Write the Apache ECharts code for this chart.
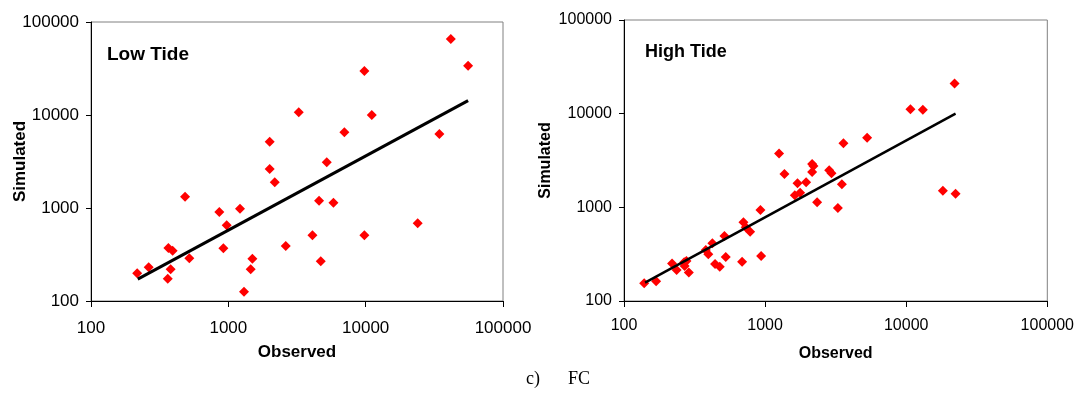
<!DOCTYPE html>
<html>
<head>
<meta charset="utf-8">
<script src="https://cdn.jsdelivr.net/npm/echarts@6/dist/echarts.min.js"></script>
<style>
html,body{margin:0;padding:0;background:#fff;}
#c{width:1077px;height:399px;}
</style>
</head>
<body>
<div id="c"></div>
<script>
// Axis tick values (log scale)
const tickValues = [100, 1000, 10000, 100000];

// Low Tide: observed vs simulated
const lowObserved = [217, 263, 362, 380, 366, 393, 484, 520, 860, 973, 920, 1216, 1301, 1455, 1496, 2001, 2001, 2177, 2618, 3256, 4095, 4580, 4711, 5210, 5825, 7000, 9790, 9790, 11080, 23930, 34400, 41700, 55700];
const lowSimulated = [199, 230, 174, 219, 371, 347, 1325, 288, 905, 651, 369, 984, 126, 219, 285, 5163, 2624, 1888, 390, 10690, 508, 1199, 267, 3097, 1140, 6515, 29700, 508, 10000, 684, 6250, 65600, 33900];
const lowTrendX = [219, 55700];
const lowTrendY = [172, 14260];

// High Tide: observed vs simulated
const highObserved = [139, 169, 219, 236, 267, 277, 269, 288, 380, 396, 423, 442, 477, 515, 526, 687, 702, 729, 783, 927, 937, 1256, 1371, 1624, 1696, 1771, 1953, 2155, 2201, 2155, 2337, 2845, 2954, 3278, 3500, 3592, 5285, 10720, 13120, 18200, 22380, 22020];
const highSimulated = [155, 163, 252, 214, 259, 267, 236, 202, 350, 315, 413, 248, 232, 494, 295, 263, 692, 612, 550, 935, 302, 3767, 2265, 1342, 1803, 1432, 1850, 2900, 2760, 2383, 1130, 2482, 2306, 984, 1759, 4820, 5536, 11120, 11020, 1503, 1396, 21000];
const highTrendX = [141, 22380];
const highTrendY = [157, 10000];

const panelTitles = ['Low Tide', 'High Tide'];
const xName = 'Observed';
const yName = 'Simulated';
const caption = ['c)', 'FC'];

function pairs(xs, ys){ return xs.map((x,i)=>[x, ys[i]]); }
const plain = v => String(Math.round(v));

const chart = echarts.init(document.getElementById('c'), null, {renderer:'canvas'});

function xAxisCfg(gi, fs, nameFs, gap, lblMargin){
  return {
    gridIndex: gi, type: 'log', logBase: 10, min: tickValues[0], max: tickValues[tickValues.length-1],
    name: xName, nameLocation: 'middle', nameGap: gap, nameMoveOverlap: false,
    nameTextStyle: {fontFamily:'Liberation Sans', fontWeight:'bold', fontSize:nameFs, color:'#000'},
    axisLine: {show:true, onZero:false, lineStyle:{color:'#000', width:1}},
    axisTick: {show:true, inside:false, length:6, lineStyle:{color:'#000'}},
    minorTick: {show:false},
    splitLine: {show:false},
    axisLabel: {fontFamily:'Liberation Sans', fontSize:fs, color:'#000', margin:lblMargin, formatter: plain}
  };
}
function yAxisCfg(gi, fs, nameFs, gap, lblMargin){
  return {
    gridIndex: gi, type: 'log', logBase: 10, min: tickValues[0], max: tickValues[tickValues.length-1],
    name: yName, nameLocation: 'middle', nameGap: gap, nameRotate: 90, nameMoveOverlap: false,
    nameTextStyle: {fontFamily:'Liberation Sans', fontWeight:'bold', fontSize:nameFs, color:'#000'},
    axisLine: {show:true, onZero:false, lineStyle:{color:'#000', width:1}},
    axisTick: {show:true, inside:false, length:5, lineStyle:{color:'#000'}},
    minorTick: {show:false},
    splitLine: {show:false},
    axisLabel: {fontFamily:'Liberation Sans', fontSize:fs, color:'#000', margin:lblMargin, formatter: plain}
  };
}

const option = {
  backgroundColor: '#fff',
  animation: false,
  grid: [
    {left:91, top:22, width:412, height:279, show:true, borderColor:'#808080', borderWidth:1, backgroundColor:'transparent'},
    {left:624, top:20, width:424, height:281, show:true, borderColor:'#808080', borderWidth:1, backgroundColor:'transparent'}
  ],
  xAxis: [ xAxisCfg(0, 17, 17, 43, 19), xAxisCfg(1, 16, 16, 45, 17) ],
  yAxis: [ yAxisCfg(0, 17, 17, 62, 12), yAxisCfg(1, 16, 16, 70, 12) ],
  series: [
    {type:'scatter', xAxisIndex:0, yAxisIndex:0, data: pairs(lowObserved, lowSimulated), symbol:'diamond', symbolSize:10, itemStyle:{color:'#ff0000', opacity:1}, z:2},
    {type:'line', xAxisIndex:0, yAxisIndex:0, data: pairs(lowTrendX, lowTrendY), showSymbol:false, symbol:'none', lineStyle:{color:'#000', width:3}, z:3},
    {type:'scatter', xAxisIndex:1, yAxisIndex:1, data: pairs(highObserved, highSimulated), symbol:'diamond', symbolSize:10, itemStyle:{color:'#ff0000', opacity:1}, z:2},
    {type:'line', xAxisIndex:1, yAxisIndex:1, data: pairs(highTrendX, highTrendY), showSymbol:false, symbol:'none', lineStyle:{color:'#000', width:2.5}, z:3}
  ],
  graphic: [
    {type:'text', left:107, top:45, style:{text:panelTitles[0], font:'bold 19px "Liberation Sans"', fill:'#000'}},
    {type:'text', left:645, top:43, style:{text:panelTitles[1], font:'bold 18px "Liberation Sans"', fill:'#000'}},
    {type:'text', left:526, top:370, style:{text:caption[0], font:'18px "Liberation Serif"', fill:'#000'}},
    {type:'text', left:568, top:370, style:{text:caption[1], font:'18px "Liberation Serif"', fill:'#000'}}
  ]
};
chart.setOption(option);
</script>
</body>
</html>
